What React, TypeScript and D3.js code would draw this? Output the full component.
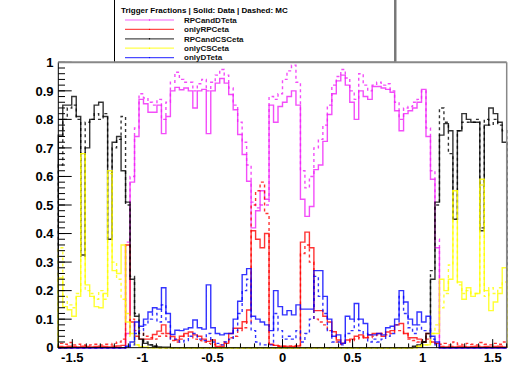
import * as d3 from 'd3';

// eta binning: 100 bins from -1.6 to 1.6
const etaLo = -1.6;
const etaHi = 1.6;
const nBins = 100;

const xTickLabels = ['-1.5', '-1', '-0.5', '0', '0.5', '1', '1.5'];
const yTickLabels = ['0', '0.1', '0.2', '0.3', '0.4', '0.5', '0.6', '0.7', '0.8', '0.9', '1'];

const legendTitle = 'Trigger Fractions | Solid: Data | Dashed: MC';
const seriesNames = ['RPCandDTeta', 'onlyRPCeta', 'RPCandCSCeta', 'onlyCSCeta', 'onlyDTeta'];
const seriesColors = ['#f020f8', '#ff0000', '#000000', '#ffff00', '#0000ff'];

const pinkData = [
  0, 0, 0, 0, 0, 0, 0, 0, 0, 0,
  0, 0, 0, 0, 0, 0.05, 0.58, 0.74, 0.87, 0.855,
  0.825, 0.825, 0.85, 0.75, 0.81, 0.9, 0.912, 0.904, 0.91, 0.9,
  0.84, 0.9, 0.905, 0.75, 0.9, 0.927, 0.943, 0.927, 0.887, 0.834,
  0.747, 0.677, 0.583, 0.42, 0.48, 0.55, 0.52, 0.85, 0.79, 0.845,
  0.86, 0.88, 0.9, 0.85, 0.52, 0.46, 0.495, 0.624, 0.64, 0.723,
  0.817, 0.89, 0.935, 0.955, 0.92, 0.86, 0.8, 0.9, 0.88, 0.87,
  0.915, 0.915, 0.91, 0.905, 0.895, 0.83, 0.76, 0.82, 0.83, 0.84,
  0.86, 0.905, 0.74, 0.59, 0.35, 0, 0, 0, 0, 0,
  0, 0, 0, 0, 0, 0, 0, 0, 0, 0,
];
const pinkMC = [
  0, 0, 0, 0, 0, 0, 0, 0, 0, 0,
  0, 0, 0, 0, 0, 0.37, 0.6, 0.77, 0.89, 0.875,
  0.86, 0.85, 0.87, 0.8, 0.86, 0.93, 0.965, 0.94, 0.93, 0.93,
  0.9, 0.925, 0.94, 0.9, 0.93, 0.955, 0.975, 0.955, 0.91, 0.85,
  0.79, 0.72, 0.64, 0.51, 0.49, 0.5, 0.5, 0.88, 0.87, 0.89,
  0.94, 0.97, 0.99, 0.93, 0.62, 0.56, 0.6, 0.7, 0.73, 0.78,
  0.85, 0.92, 0.95, 0.975, 0.945, 0.9, 0.87, 0.96, 0.92, 0.9,
  0.92, 0.93, 0.92, 0.925, 0.9, 0.86, 0.8, 0.84, 0.845, 0.86,
  0.87, 0.9, 0.77, 0.62, 0.38, 0, 0, 0, 0, 0,
  0, 0, 0, 0, 0, 0, 0, 0, 0, 0,
];
const redData = [
  0.004, 0.003, 0.005, 0.004, 0.003, 0.005, 0.004, 0.003, 0.004, 0.005,
  0.004, 0.003, 0.005, 0.006, 0.008, 0.36, 0.09, 0.04, 0.03, 0.03,
  0.03, 0.046, 0.058, 0.08, 0.05, 0.039, 0.027, 0.04, 0.05, 0.055,
  0.045, 0.04, 0.03, 0.022, 0.027, 0.004, 0.004, 0.015, 0.05, 0.068,
  0.068, 0.091, 0.132, 0.41, 0.38, 0.35, 0.4, 0.012, 0.008, 0.005,
  0.005, 0.003, 0.004, 0.006, 0.37, 0.405, 0.35, 0.13, 0.13, 0.11,
  0.09, 0.056, 0.027, 0.016, 0.027, 0.03, 0.04, 0.045, 0.035, 0.045,
  0.05, 0.05, 0.04, 0.055, 0.06, 0.08, 0.085, 0.05, 0.035, 0.035,
  0.03, 0.02, 0.05, 0.02, 0.015, 0.004, 0.003, 0.004, 0.003, 0.005,
  0.004, 0.003, 0.004, 0.005, 0.003, 0.004, 0.003, 0.004, 0.005, 0.003,
];
const redMC = [
  0.015, 0.012, 0.018, 0.01, 0.012, 0.01, 0.008, 0.01, 0.012, 0.01,
  0.012, 0.01, 0.015, 0.02, 0.03, 0.05, 0.1, 0.06, 0.05, 0.04,
  0.035, 0.03, 0.04, 0.05, 0.04, 0.025, 0.02, 0.03, 0.045, 0.04,
  0.03, 0.025, 0.02, 0.015, 0.012, 0.01, 0.01, 0.02, 0.035, 0.04,
  0.06, 0.07, 0.09, 0.5, 0.55, 0.58, 0.47, 0.01, 0.008, 0.006,
  0.005, 0.006, 0.005, 0.008, 0.33, 0.36, 0.3, 0.1, 0.09, 0.08,
  0.06, 0.04, 0.02, 0.012, 0.02, 0.025, 0.03, 0.035, 0.04, 0.035,
  0.04, 0.045, 0.05, 0.045, 0.05, 0.06, 0.06, 0.05, 0.03, 0.025,
  0.02, 0.02, 0.03, 0.02, 0.015, 0.012, 0.015, 0.01, 0.02, 0.012,
  0.01, 0.015, 0.012, 0.01, 0.018, 0.012, 0.01, 0.015, 0.012, 0.02,
];
const blackData = [
  0.745, 0.85, 0.85, 0.88, 0.81, 0.325, 0.7, 0.8, 0.85, 0.86,
  0.81, 0.38, 0.72, 0.74, 0.62, 0.51, 0.24, 0.11, 0.03, 0.015,
  0.01, 0.005, 0.003, 0.002, 0.002, 0, 0, 0, 0, 0,
  0, 0, 0, 0, 0, 0, 0, 0, 0, 0,
  0, 0, 0, 0, 0, 0, 0, 0, 0, 0,
  0, 0, 0, 0, 0, 0, 0, 0, 0, 0,
  0, 0, 0, 0, 0, 0, 0, 0, 0, 0,
  0, 0, 0, 0, 0, 0, 0, 0, 0, 0.005,
  0.01, 0.02, 0.05, 0.24, 0.51, 0.745, 0.785, 0.76, 0.45, 0.76,
  0.82, 0.8, 0.79, 0.79, 0.41, 0.78, 0.84, 0.82, 0.79, 0.72,
];
const blackMC = [
  0.64, 0.8, 0.84, 0.85, 0.8, 0.32, 0.79, 0.8, 0.82, 0.8,
  0.82, 0.38, 0.7, 0.73, 0.81, 0.5, 0.25, 0.12, 0.05, 0.02,
  0.01, 0.005, 0, 0, 0, 0, 0, 0, 0, 0,
  0, 0, 0, 0, 0, 0, 0, 0, 0, 0,
  0, 0, 0, 0, 0, 0, 0, 0, 0, 0,
  0, 0, 0, 0, 0, 0, 0, 0, 0, 0,
  0, 0, 0, 0, 0, 0, 0, 0, 0, 0,
  0, 0, 0, 0, 0, 0, 0, 0, 0, 0.005,
  0.01, 0.02, 0.04, 0.27, 0.5, 0.84, 0.79, 0.68, 0.45, 0.76,
  0.79, 0.79, 0.79, 0.8, 0.42, 0.8, 0.78, 0.8, 0.78, 0.76,
];
const yellowData = [
  0.244, 0.144, 0.133, 0.11, 0.18, 0.68, 0.22, 0.18, 0.144, 0.14,
  0.19, 0.62, 0.27, 0.26, 0.36, 0.09, 0.05, 0.01, 0.003, 0.002,
  0, 0, 0, 0, 0, 0, 0, 0, 0, 0,
  0, 0, 0, 0, 0, 0, 0, 0, 0, 0,
  0, 0, 0, 0, 0, 0, 0, 0, 0, 0,
  0, 0, 0, 0, 0, 0, 0, 0, 0, 0,
  0, 0, 0, 0, 0, 0, 0, 0, 0, 0,
  0, 0, 0, 0, 0, 0, 0, 0, 0, 0,
  0.005, 0.01, 0.01, 0.05, 0.05, 0.24, 0.2, 0.24, 0.55, 0.23,
  0.17, 0.21, 0.18, 0.19, 0.59, 0.2, 0.13, 0.16, 0.19, 0.28,
];
const yellowMC = [
  0.35, 0.18, 0.15, 0.14, 0.19, 0.68, 0.2, 0.19, 0.17, 0.2,
  0.17, 0.61, 0.3, 0.24, 0.17, 0.12, 0.04, 0.01, 0.003, 0.002,
  0, 0, 0, 0, 0, 0, 0, 0, 0, 0,
  0, 0, 0, 0, 0, 0, 0, 0, 0, 0,
  0, 0, 0, 0, 0, 0, 0, 0, 0, 0,
  0, 0, 0, 0, 0, 0, 0, 0, 0, 0,
  0, 0, 0, 0, 0, 0, 0, 0, 0, 0,
  0, 0, 0, 0, 0, 0, 0, 0, 0, 0,
  0.005, 0.01, 0.01, 0.05, 0.08, 0.14, 0.19, 0.29, 0.55, 0.22,
  0.19, 0.2, 0.19, 0.19, 0.57, 0.18, 0.21, 0.19, 0.21, 0.23,
];
const blueData = [
  0, 0, 0, 0, 0, 0, 0, 0, 0, 0,
  0, 0, 0, 0, 0, 0.005, 0.02, 0.09, 0.075, 0.1,
  0.125, 0.14, 0.135, 0.21, 0.12, 0.046, 0.061, 0.06, 0.065, 0.07,
  0.097, 0.07, 0.065, 0.22, 0.07, 0.05, 0.045, 0.05, 0.05, 0.1,
  0.163, 0.256, 0.277, 0.11, 0.1, 0.09, 0.08, 0.06, 0.2, 0.144,
  0.115, 0.13, 0.115, 0.15, 0.135, 0.135, 0.135, 0.27, 0.27, 0.18,
  0.1, 0.04, 0.045, 0.015, 0.11, 0.1, 0.155, 0.1, 0.085, 0.045,
  0.045, 0.05, 0.045, 0.07, 0.075, 0.1, 0.2, 0.16, 0.1, 0.08,
  0.125, 0.09, 0.11, 0.04, 0.02, 0, 0, 0, 0, 0,
  0, 0, 0, 0, 0, 0, 0, 0, 0, 0,
];
const blueMC = [
  0, 0, 0, 0, 0, 0, 0, 0, 0, 0,
  0, 0, 0, 0, 0, 0.003, 0.01, 0.05, 0.06, 0.08,
  0.1, 0.12, 0.09, 0.15, 0.09, 0.03, 0.03, 0.02, 0.025, 0.04,
  0.05, 0.03, 0.025, 0.05, 0.02, 0.015, 0.01, 0.02, 0.03, 0.06,
  0.12, 0.2, 0.24, 0.06, 0.02, 0.01, 0.01, 0.01, 0.12, 0.06,
  0.03, 0.04, 0.03, 0.06, 0.02, 0.05, 0.1, 0.25, 0.18, 0.12,
  0.06, 0.02, 0.02, 0.01, 0.05, 0.06, 0.1, 0.06, 0.05, 0.02,
  0.03, 0.02, 0.03, 0.04, 0.05, 0.08, 0.18, 0.12, 0.07, 0.05,
  0.08, 0.06, 0.06, 0.03, 0.01, 0, 0, 0, 0, 0,
  0, 0, 0, 0, 0, 0, 0, 0, 0, 0,
];

const W = 510;
const H = 382;
const frame = { left: 58.3, right: 506.7, top: 62.3, bottom: 347.7 };

const x = d3.scaleLinear().domain([etaLo, etaHi]).range([frame.left, frame.right]);
const y = d3.scaleLinear().domain([0, 1]).range([frame.bottom, frame.top]);
const edges = d3.range(nBins + 1).map((i) => etaLo + (i * (etaHi - etaLo)) / nBins);

// outline of a histogram, ROOT "hist" style
function stepPath(values: number[]) {
  const pts: [number, number][] = [[edges[0], 0]];
  values.forEach((v, i) => {
    pts.push([edges[i], v]);
    pts.push([edges[i + 1], v]);
  });
  pts.push([edges[nBins], 0]);
  return d3.line().x((d) => x(d[0])).y((d) => y(d[1]))(pts) || '';
}

const dataSeries = [pinkData, redData, blackData, yellowData, blueData];
const mcSeries = [pinkMC, redMC, blackMC, yellowMC, blueMC];

const font = 'Liberation Sans, Arial, Helvetica, sans-serif';

export default function App() {
  const yMajor = d3.range(0, 11).map((i) => i / 10);
  const yMinor = d3.range(0, 51).map((i) => i / 50);
  const xMajor = xTickLabels.map(Number);
  const xMinor = d3.range(0, 33).map((i) => etaLo + i * 0.1);

  return (
    <svg
      width={W}
      height={H}
      style={{ position: 'absolute', left: 0, top: 0, background: '#fff' }}
      fontFamily={font}
    >
      <rect x={0} y={0} width={W} height={H} fill="#fff" />

      {/* histograms: data solid, MC dashed */}
      <g fill="none" strokeWidth={1.4}>
        {dataSeries.map((vals, k) => (
          <g key={k}>
            <path d={stepPath(mcSeries[k])} stroke={seriesColors[k]} strokeDasharray="3,3" opacity={0.8} />
            <path d={stepPath(vals)} stroke={seriesColors[k]} opacity={0.8} />
          </g>
        ))}
      </g>

      {/* frame */}
      <line x1={frame.right} x2={frame.right} y1={frame.top} y2={frame.bottom} stroke="#888" strokeWidth={1.5} />
      <line x1={frame.left} x2={frame.left} y1={frame.top} y2={frame.bottom} stroke="#000" strokeWidth={1} />
      <line x1={frame.left} x2={frame.right} y1={frame.bottom} y2={frame.bottom} stroke="#000" strokeWidth={1} />

      {/* y axis */}
      <g stroke="#000" strokeWidth={1}>
        {yMinor.map((v, i) => (
          <line key={'ym' + i} x1={frame.left} x2={frame.left + 6.7} y1={y(v)} y2={y(v)} />
        ))}
        {yMajor.map((v, i) => (
          <line key={'yM' + i} x1={frame.left} x2={frame.left + 13.4} y1={y(v)} y2={y(v)} />
        ))}
      </g>
      <g fontSize={13} fontWeight="bold" textAnchor="end">
        {yTickLabels.map((t) => (
          <text key={t} x={53.5} y={y(Number(t)) + 4.7}>
            {t}
          </text>
        ))}
      </g>

      {/* x axis */}
      <g stroke="#000" strokeWidth={1}>
        {xMinor.map((v, i) => (
          <line key={'xm' + i} x1={x(v)} x2={x(v)} y1={frame.bottom} y2={frame.bottom - 4.3} />
        ))}
        {xMajor.map((v, i) => (
          <line key={'xM' + i} x1={x(v)} x2={x(v)} y1={frame.bottom} y2={frame.bottom - 8.6} />
        ))}
      </g>
      <g fontSize={13} fontWeight="bold" textAnchor="middle">
        {xTickLabels.map((t) => (
          <text key={t} x={x(Number(t))} y={362}>
            {t}
          </text>
        ))}
      </g>

      {/* legend */}
      <rect x={114.5} y={-2} width={280.5} height={frame.top + 2} fill="#fff" stroke="#000" strokeWidth={1} />
      <line x1={395.5} x2={395.5} y1={0} y2={frame.top} stroke="#777" strokeWidth={2} />
      <line x1={frame.left} x2={frame.right} y1={frame.top} y2={frame.top} stroke="#888" strokeWidth={2} />
      <text x={121} y={13} fontSize={8} fontWeight="bold" fill="#000">
        {legendTitle}
      </text>
      {seriesNames.map((name, k) => {
        const ly = 20 + k * 9.4;
        return (
          <g key={name}>
            <line x1={125} x2={174} y1={ly} y2={ly} stroke={seriesColors[k]} strokeWidth={1.2} opacity={0.7} />
            <circle cx={149.5} cy={ly} r={0.7} fill={seriesColors[k]} />
            <text x={184} y={ly + 2.8} fontSize={8} fontWeight="bold" fill="#111">
              {name}
            </text>
          </g>
        );
      })}
    </svg>
  );
}
